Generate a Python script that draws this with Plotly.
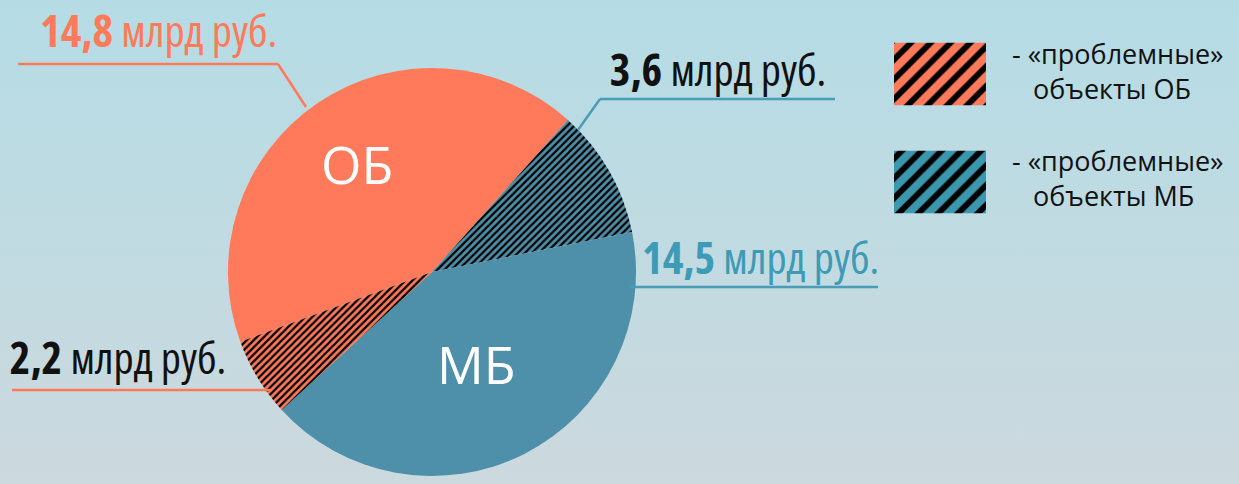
import base64
import plotly.graph_objects as go

# ---- data ----
slice_labels = ["ОБ", "«проблемные» объекты МБ", "МБ", "«проблемные» объекты ОБ"]
slice_values = [14.8, 3.6, 14.5, 2.2]
slice_colors = ["#FF7A5A", "#4E90A9", "#4E90A9", "#FF7A5A"]
slice_hatch = ["", "/", "", "/"]

value_texts = ["14,8", "3,6", "14,5", "2,2"]
unit_text = "млрд руб."

legend_labels = ["«проблемные» объекты ОБ", "«проблемные» объекты МБ"]
legend_values = [1, 1]
legend_colors = ["#FF7A5A", "#3A97AE"]
legend_names = ["ОБ", "МБ"]

W, H = 1239, 484


def px(x):
    return x / W


def py(y):
    return 1 - y / H


fig = go.Figure()

# pie
cx, cy, r = 432, 272, 204
fig.add_trace(go.Pie(
    labels=slice_labels,
    values=slice_values,
    sort=False,
    direction="clockwise",
    rotation=-110,
    textinfo="none",
    hoverinfo="label+value",
    showlegend=False,
    domain=dict(x=[px(cx - r), px(cx + r)], y=[py(cy + r), py(cy - r)]),
    marker=dict(
        colors=slice_colors,
        line=dict(width=0),
        pattern=dict(shape=slice_hatch, fgcolor="#000000", bgcolor=slice_colors,
                     size=5, solidity=0.45),
    ),
))

# legend swatches as bars on their own axes (one trace per swatch)
for lab, val, col in zip(legend_labels, legend_values, legend_colors):
    fig.add_trace(go.Bar(
        x=[val],
        y=[lab],
        orientation="h",
        xaxis="x2",
        yaxis="y2",
        showlegend=False,
        hoverinfo="y",
        marker=dict(
            color=col,
            line=dict(width=0),
            pattern=dict(shape="/", fgcolor="#000000", bgcolor=col, fgopacity=1,
                         size=14, solidity=0.42),
        ),
    ))

# gradient background
svg = ("<svg xmlns='http://www.w3.org/2000/svg' width='1239' height='484' preserveAspectRatio='none'>"
       "<defs><linearGradient id='g' x1='0' y1='0' x2='0' y2='1'>"
       "<stop offset='0' stop-color='#B5DCE5'/><stop offset='1' stop-color='#CCD9DE'/>"
       "</linearGradient></defs><rect width='1239' height='484' fill='url(#g)'/></svg>")
bg_src = "data:image/svg+xml;base64," + base64.b64encode(svg.encode()).decode()

coral = "#FF7A5A"
blue_lbl = "#3E9BB5"
blue_line = "#4A9DB6"
dark = "#111111"
num_font = "Open Sans, sans-serif"

annotations = []


def value_label(i, x, y, color):
    annotations.append(dict(
        x=px(x), y=py(y), xref="paper", yref="paper", xanchor="center", yanchor="middle",
        text=f"<b>{value_texts[i]}</b> {unit_text}", showarrow=False,
        font=dict(family=num_font, size=44, color=color),
    ))


value_label(0, 158, 30, coral)
value_label(1, 718, 69, dark)
value_label(2, 760, 257, blue_lbl)
value_label(3, 118, 357, dark)

# slice names
for name, x, y in [("ОБ", 357, 163), ("МБ", 476, 363)]:
    annotations.append(dict(
        x=px(x), y=py(y), xref="paper", yref="paper", xanchor="center", yanchor="middle",
        text=name, showarrow=False,
        font=dict(family="Open Sans, sans-serif", size=52, color="white"),
    ))

# legend texts
indent = "\u00a0" * 3
for yc, suffix in zip([71, 178], legend_names):
    annotations.append(dict(
        x=px(1010), y=py(yc), xref="paper", yref="paper", xanchor="left", yanchor="middle",
        align="left",
        text="- «проблемные»<br>" + indent + "объекты " + suffix, showarrow=False,
        font=dict(family="Open Sans, sans-serif", size=27, color="#111111"),
    ))

# leader lines
shapes = []


def seg(x0, y0, x1, y1, color):
    shapes.append(dict(type="line", xref="paper", yref="paper",
                       x0=px(x0), y0=py(y0), x1=px(x1), y1=py(y1),
                       line=dict(color=color, width=2.5)))


seg(18, 64, 278, 64, coral)
seg(278, 64, 306, 107, coral)
seg(600, 99, 835, 99, blue_line)
seg(600, 99, 578, 130, blue_line)
seg(630, 287, 878, 287, blue_line)
seg(12, 390, 272, 390, coral)

fig.update_layout(
    width=W, height=H,
    margin=dict(l=0, r=0, t=0, b=0),
    paper_bgcolor="#C1DBE1",
    plot_bgcolor="rgba(0,0,0,0)",
    images=[dict(source=bg_src, xref="paper", yref="paper", x=0, y=1, sizex=1, sizey=1,
                 xanchor="left", yanchor="top", sizing="stretch", layer="below")],
    xaxis=dict(visible=False),
    yaxis=dict(visible=False),
    xaxis2=dict(domain=[px(894), px(986)], range=[0, 1], visible=False, fixedrange=True),
    yaxis2=dict(domain=[py(236), py(20)], visible=False, fixedrange=True,
                categoryorder="array", categoryarray=legend_labels[::-1]),
    bargap=0.42,
    barmode="overlay",
    annotations=annotations,
    shapes=shapes,
)

post = """
document.body.style.margin = '0';
document.body.style.overflow = 'hidden';
var gd = document.getElementById('{plot_id}');
gd.querySelectorAll('.annotation-text').forEach(function (t) {
  if (t.textContent.indexOf('млрд') >= 0) { t.style.fontStretch = '75%'; }
});
"""

fig.write_html("out.html", post_script=post, config={"displayModeBar": False})
